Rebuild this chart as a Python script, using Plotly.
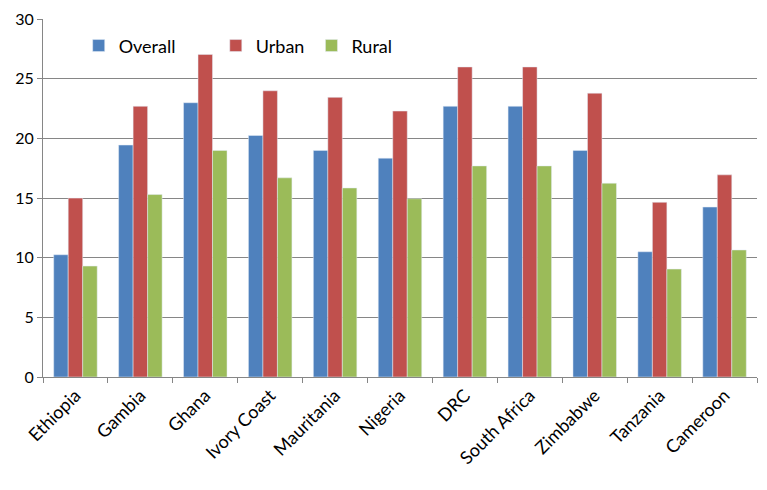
import plotly.graph_objects as go

categories = ["Ethiopia", "Gambia", "Ghana", "Ivory Coast", "Mauritania", "Nigeria",
              "DRC", "South Africa", "Zimbabwe", "Tanzania", "Cameroon"]
overall = [10.25, 19.45, 23.0, 20.25, 19.0, 18.35, 22.7, 22.7, 19.0, 10.5, 14.25]
urban = [15.0, 22.7, 27.05, 24.0, 23.45, 22.3, 26.0, 26.0, 23.8, 14.65, 16.95]
rural = [9.3, 15.3, 19.0, 16.7, 15.85, 14.95, 17.7, 17.7, 16.25, 9.05, 10.65]

FONT = "Lato"
fig = go.Figure()
fig.add_trace(go.Bar(name="Overall", x=categories, y=overall, marker_color="#4F81BD", legend="legend"))
fig.add_trace(go.Bar(name="Urban", x=categories, y=urban, marker_color="#C0504D", legend="legend2"))
fig.add_trace(go.Bar(name="Rural", x=categories, y=rural, marker_color="#9BBB59", legend="legend3"))

leg = dict(orientation="h", xanchor="left", yanchor="middle", y=0.925,
           font=dict(family=FONT, size=18, color="#000000"), bgcolor="rgba(0,0,0,0)",
           itemwidth=30)
# page body has an 8px default margin; sizes compensate so the plot lands where the reference has it
fig.update_layout(
    width=759, height=482,
    margin=dict(l=35, r=10, t=11, b=113),
    plot_bgcolor="white", paper_bgcolor="white",
    barmode="group", bargap=0.33, bargroupgap=0,
    font=dict(family=FONT, size=15, color="#000000"),
    legend=dict(leg, x=0.05),
    legend2=dict(leg, x=0.242),
    legend3=dict(leg, x=0.376),
    showlegend=True,
)
fig.update_xaxes(showline=True, linecolor="#868686", linewidth=1,
                 ticks="outside", ticklen=5, tickcolor="#868686",
                 tickson="boundaries", tickangle=-45, automargin=False,
                 tickfont=dict(family=FONT, size=18, color="#000000"))
fig.update_yaxes(range=[0, 30.02], tickvals=[0, 5, 10, 15, 20, 25, 30],
                 showline=True, linecolor="#868686", linewidth=1,
                 ticks="outside", ticklen=5, tickcolor="#868686", automargin=False,
                 ticklabeloverflow="allow",
                 showgrid=True, gridcolor="#868686", gridwidth=1, zeroline=False,
                 tickfont=dict(family=FONT, size=16, color="#000000"))
fig.write_html("out.html")
